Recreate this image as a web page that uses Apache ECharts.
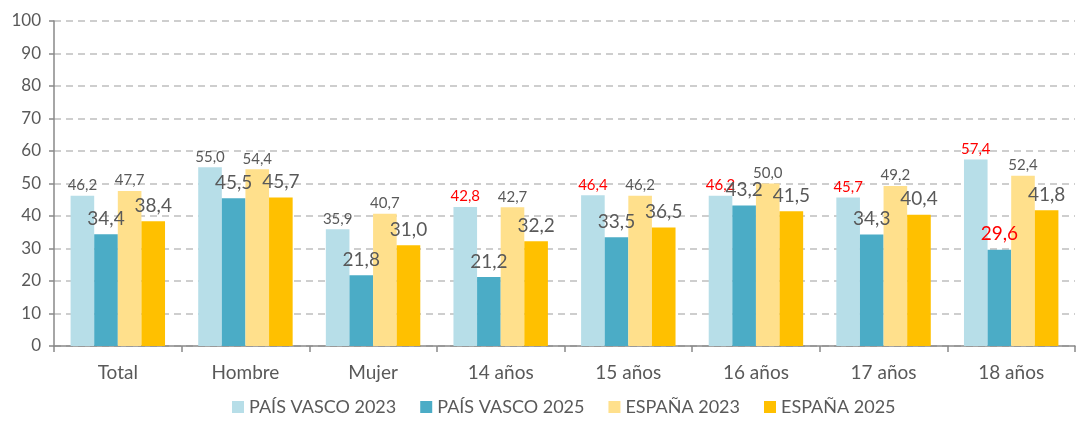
<!DOCTYPE html>
<html>
<head>
<meta charset="utf-8">
<script src="https://cdn.jsdelivr.net/npm/echarts@6/dist/echarts.min.js"></script>
<style>
  html, body { margin: 0; padding: 0; background: #fff; }
  #chart { width: 1079px; height: 422px; }
</style>
</head>
<body>
<div id="chart"></div>
<script>
const categories = ["Total", "Hombre", "Mujer", "14 años", "15 años", "16 años", "17 años", "18 años"];
const seriesNames = ["PAÍS VASCO 2023", "PAÍS VASCO 2025", "ESPAÑA 2023", "ESPAÑA 2025"];
const pv2023 = [46.2, 55.0, 35.9, 42.8, 46.4, 46.2, 45.7, 57.4];
const pv2025 = [34.4, 45.5, 21.8, 21.2, 33.5, 43.2, 34.3, 29.6];
const esp2023 = [47.7, 54.4, 40.7, 42.7, 46.2, 50.0, 49.2, 52.4];
const esp2025 = [38.4, 45.7, 31.0, 32.2, 36.5, 41.5, 40.4, 41.8];
// puntos con etiqueta en rojo
const redPv2023 = [3, 4, 5, 6, 7];
const redPv2025 = [7];

const FONT = "Lato";
const GREY = "#595959";

function items(values, reds) {
  return values.map((v, i) => reds.includes(i)
    ? { value: v, label: { color: "#ff0000" } }
    : v);
}

function bar(name, data, color, fontSize, dist) {
  return {
    name: name,
    type: "bar",
    data: data,
    barGap: "0%",
    barCategoryGap: "26%",
    itemStyle: { color: color },
    label: {
      show: true,
      position: "top",
      distance: dist,
      fontFamily: FONT,
      fontSize: fontSize,
      color: GREY,
      formatter: p => p.value.toFixed(1).replace(".", ",")
    }
  };
}

const chart = echarts.init(document.getElementById("chart"));
chart.setOption({
  animation: false,
  textStyle: { fontFamily: FONT },
  grid: { left: 54, right: 4, top: 21, bottom: 76 },
  legend: {
    bottom: 1,
    left: 227,
    icon: "rect",
    itemWidth: 12,
    itemHeight: 12,
    itemGap: 24,
    textStyle: { fontFamily: FONT, fontSize: 18, color: GREY },
    data: seriesNames
  },
  xAxis: {
    type: "category",
    data: categories,
    axisLine: { lineStyle: { color: "#898989", width: 1.5 } },
    axisTick: { show: true, length: 6, lineStyle: { color: "#898989", width: 1.5 } },
    axisLabel: { fontFamily: FONT, fontSize: 19, color: GREY, margin: 17 }
  },
  yAxis: {
    type: "value",
    min: 0,
    max: 100,
    interval: 10,
    axisLine: { show: true, lineStyle: { color: "#898989", width: 1.5 } },
    axisTick: { show: true, length: 5, lineStyle: { color: "#898989", width: 1.5 } },
    axisLabel: { fontFamily: FONT, fontSize: 17, color: GREY, margin: 13 },
    splitLine: { lineStyle: { color: "#bfbfbf", type: [7, 5], width: 1.5 } }
  },
  series: [
    bar(seriesNames[0], items(pv2023, redPv2023), "#b7dee8", 15, 3),
    bar(seriesNames[1], items(pv2025, redPv2025), "#4bacc6", 19, 6),
    bar(seriesNames[2], items(esp2023, []), "#ffe08c", 15, 3),
    bar(seriesNames[3], items(esp2025, []), "#ffc000", 19, 6)
  ]
});
</script>
</body>
</html>
